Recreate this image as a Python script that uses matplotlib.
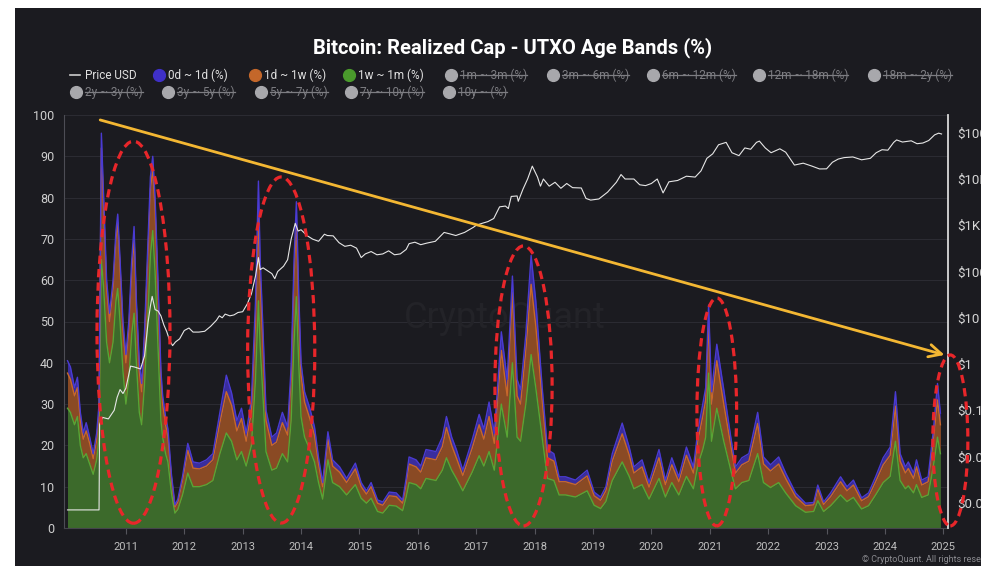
import matplotlib
matplotlib.use("Agg")
import matplotlib.pyplot as plt
from matplotlib.patches import Rectangle, Ellipse
from matplotlib.lines import Line2D
import numpy as np

plt.rcParams['font.family'] = ['Roboto', 'DejaVu Sans']

# ---------------- data ----------------
years = [2010.00, 2010.05, 2010.12, 2010.17, 2010.22, 2010.27, 2010.32, 2010.38, 2010.44, 2010.50,
         2010.54, 2010.58, 2010.62, 2010.67, 2010.72, 2010.78, 2010.83, 2010.86, 2010.90, 2010.95,
         2011.00, 2011.05, 2011.10, 2011.14, 2011.18, 2011.23, 2011.27, 2011.32, 2011.38, 2011.42,
         2011.46, 2011.50, 2011.55, 2011.60, 2011.63, 2011.68, 2011.72, 2011.78, 2011.84, 2011.89,
         2011.97, 2012.06, 2012.15, 2012.26, 2012.38, 2012.49, 2012.61, 2012.72, 2012.81, 2012.90,
         2012.98, 2013.06, 2013.15, 2013.22, 2013.27, 2013.30, 2013.34, 2013.40, 2013.50, 2013.58,
         2013.68, 2013.77, 2013.83, 2013.88, 2013.92, 2013.96, 2014.00, 2014.06, 2014.15, 2014.23,
         2014.30, 2014.37, 2014.46, 2014.54, 2014.66, 2014.78, 2014.93, 2015.03, 2015.12, 2015.20,
         2015.31, 2015.40, 2015.51, 2015.63, 2015.74, 2015.80, 2015.85, 2015.97, 2016.05, 2016.14,
         2016.31, 2016.42, 2016.49, 2016.58, 2016.66, 2016.77, 2016.93, 2017.05, 2017.13, 2017.22,
         2017.31, 2017.37, 2017.43, 2017.53, 2017.62, 2017.70, 2017.76, 2017.85, 2017.94, 2018.02,
         2018.13, 2018.22, 2018.33, 2018.42, 2018.53, 2018.70, 2018.90, 2019.02, 2019.13, 2019.22,
         2019.33, 2019.50, 2019.62, 2019.70, 2019.84, 2019.96, 2020.13, 2020.24, 2020.35, 2020.47,
         2020.60, 2020.72, 2020.80, 2020.88, 2020.93, 2020.98, 2021.03, 2021.12, 2021.24, 2021.36,
         2021.44, 2021.55, 2021.67, 2021.82, 2021.92, 2022.04, 2022.18, 2022.30, 2022.47, 2022.64,
         2022.78, 2022.85, 2022.95, 2023.07, 2023.24, 2023.35, 2023.46, 2023.60, 2023.72, 2023.84,
         2023.97, 2024.09, 2024.18, 2024.26, 2024.35, 2024.40, 2024.49, 2024.54, 2024.63, 2024.74,
         2024.83, 2024.90, 2024.95]

band_1w_1m = [29, 28, 25, 27, 20, 17, 18, 15.5, 13, 16.5,
              22, 65, 58, 45, 40, 45, 55, 58, 50, 38,
              30, 36, 47, 52, 40, 28, 25, 35, 52, 66,
              72, 62, 44, 26, 22, 18, 16, 8.5, 3.6, 4.5,
              8, 13.3, 10, 10, 10.5, 11.5, 18, 23, 21, 16.5,
              18.5, 15, 20, 36, 55, 44, 34, 18.5, 14, 14.5,
              18, 16, 26, 45, 56, 40, 27, 22, 19, 16,
              11, 7, 16.5, 11, 10, 8, 10.5, 7.2, 6, 7.2,
              4, 3.6, 5.5, 5.3, 4.2, 7.5, 11, 10.5, 9.5, 12,
              11.5, 14, 17, 14, 12, 9, 13.5, 17.5, 15, 18.5,
              14, 22, 30, 22, 40, 22, 21, 30, 42, 34,
              22, 12, 11.5, 8, 8, 7.5, 9, 5.5, 4.7, 6.4,
              11.5, 16, 12.5, 9.5, 10.5, 7, 12, 7.5, 11, 8,
              12.5, 9.5, 15.5, 19, 22, 37.5, 21, 29, 21, 14,
              9.5, 11, 11.5, 18, 11, 9.8, 11, 8.5, 5.4, 3.8,
              4, 6.6, 4, 5.4, 8, 6.4, 7.4, 4.6, 5.4, 8,
              11, 12.5, 21, 11.5, 9.5, 10.2, 8.5, 10.5, 7.4, 8,
              15, 22, 18]

band_1d_1w = [8.5, 8, 7, 7, 6, 4.5, 5.5, 5, 3.8, 4.8,
              6, 27, 19, 13, 10, 13, 15, 16, 13, 10,
              10, 12, 15, 18, 13, 10, 8, 11, 15, 16,
              15, 15, 13, 10, 8, 7, 6, 3.5, 1.5, 1.8,
              3.5, 5.5, 4.5, 4.3, 4.5, 5, 7.5, 10, 8.7, 7,
              8, 6, 8, 14, 20, 16, 13, 7.5, 6, 6.3,
              7.5, 6.5, 10, 16, 18, 13, 10, 8.5, 7.5, 6.5,
              4.5, 3, 5, 4, 3.5, 3, 3.8, 2.8, 2.2, 2.8,
              2, 1.9, 2.3, 2.3, 1.8, 3.3, 4.5, 4.3, 4, 5,
              5, 5.7, 7.3, 6, 5, 3.7, 5.8, 7.5, 6.5, 8.5,
              6.5, 9.5, 13, 10, 17, 10, 9, 13, 17, 15,
              9, 5, 4.7, 3.2, 3.2, 3, 3.6, 2.3, 2, 2.6,
              4.7, 6.8, 5.2, 3.8, 4.3, 2.9, 5, 3, 4.3, 3.2,
              5.1, 3.8, 6, 8, 9, 12, 9, 11.5, 9, 6,
              3.8, 4.3, 4.7, 7.3, 4.5, 4, 4.5, 3.5, 2.2, 1.6,
              1.6, 2.8, 1.7, 2.2, 3.2, 2.6, 3, 2, 2.2, 3.2,
              4.3, 5.1, 8.5, 4.7, 3.8, 4.2, 3.5, 4.3, 3, 3.2,
              6.2, 9, 7]

band_0d_1d = [3, 3, 2, 2.5, 2, 1.5, 2, 1.5, 1.2, 1.7,
              2, 3.6, 3, 2, 2, 2, 2, 2, 2, 2,
              2, 2, 3, 3, 2, 2, 2, 2, 3, 3,
              3, 3, 3, 2, 2, 2, 2, 1, 0.5, 0.7,
              1, 1.7, 1.5, 1.4, 1.5, 1.5, 2.5, 4, 3, 2.5,
              2.5, 2, 3, 5, 9, 5, 4, 2.5, 2, 2.2,
              2.5, 2, 3, 4, 5, 4, 3, 2.5, 2.5, 2,
              1.5, 1, 1.8, 1.5, 1.3, 1, 1.4, 1, 0.8, 1,
              0.8, 0.8, 0.9, 0.9, 0.8, 1.2, 1.7, 1.7, 1.5, 2,
              2, 2.3, 2.7, 2, 2, 1.3, 2, 2.5, 2.5, 3.5,
              2.5, 3.5, 4.5, 4, 4, 4, 3.5, 4, 7, 6,
              3, 2, 1.8, 1.2, 1.2, 1.1, 1.4, 0.9, 0.8, 1,
              1.8, 2.6, 1.9, 1.5, 1.7, 1.1, 2, 1.1, 1.7, 1.2,
              2, 1.5, 2.5, 3, 3, 4.5, 3, 4, 3.5, 2,
              1.5, 1.7, 1.8, 2.7, 1.7, 1.5, 1.7, 1.3, 0.9, 0.6,
              0.6, 1, 0.6, 0.9, 1.2, 1, 1.2, 0.7, 0.9, 1.2,
              1.7, 2, 3.5, 1.8, 1.5, 1.6, 1.3, 1.7, 1.2, 1.2,
              2.5, 4, 2.8]

price_years = [2010.00, 2010.54, 2010.55, 2010.60, 2010.70, 2010.80, 2010.85, 2010.90, 2010.95, 2011.00,
               2011.08, 2011.15, 2011.25, 2011.32, 2011.38, 2011.42, 2011.45, 2011.50, 2011.55, 2011.60,
               2011.65, 2011.70, 2011.75, 2011.80, 2011.85, 2011.92, 2012.00, 2012.08, 2012.15, 2012.25,
               2012.35, 2012.45, 2012.55, 2012.60, 2012.65, 2012.70, 2012.78, 2012.85, 2012.92, 2013.00,
               2013.08, 2013.15, 2013.22, 2013.27, 2013.30, 2013.35, 2013.42, 2013.50, 2013.55, 2013.60,
               2013.70, 2013.77, 2013.83, 2013.90, 2013.95, 2014.00, 2014.10, 2014.20, 2014.30, 2014.40,
               2014.45, 2014.55, 2014.65, 2014.75, 2014.85, 2014.95, 2015.03, 2015.10, 2015.20, 2015.30,
               2015.40, 2015.50, 2015.60, 2015.70, 2015.80, 2015.85, 2015.95, 2016.05, 2016.15, 2016.30,
               2016.45, 2016.55, 2016.65, 2016.80, 2016.95, 2017.00, 2017.10, 2017.20, 2017.30, 2017.40,
               2017.50, 2017.55, 2017.60, 2017.70, 2017.72, 2017.80, 2017.88, 2017.96, 2018.05, 2018.10,
               2018.15, 2018.25, 2018.35, 2018.45, 2018.55, 2018.65, 2018.80, 2018.88, 2018.96, 2019.10,
               2019.25, 2019.40, 2019.48, 2019.55, 2019.70, 2019.80, 2019.90, 2020.00, 2020.10, 2020.20,
               2020.30, 2020.45, 2020.60, 2020.75, 2020.85, 2020.95, 2021.05, 2021.15, 2021.28, 2021.38,
               2021.50, 2021.60, 2021.70, 2021.80, 2021.85, 2021.95, 2022.05, 2022.20, 2022.30, 2022.45,
               2022.60, 2022.75, 2022.88, 2023.00, 2023.10, 2023.20, 2023.30, 2023.45, 2023.60, 2023.75,
               2023.85, 2023.95, 2024.05, 2024.15, 2024.20, 2024.30, 2024.45, 2024.55, 2024.65, 2024.75,
               2024.85, 2024.92, 2024.97]

price_usd = [0.0007, 0.0007, 0.05, 0.07, 0.065, 0.1, 0.19, 0.28, 0.23, 0.30,
             0.9, 0.86, 0.78, 1.5, 8, 18, 29, 15, 14, 11,
             7, 5, 3.2, 2.5, 3.0, 3.5, 5.3, 6, 4.9, 4.9,
             5.1, 6.5, 8.8, 11, 10, 12, 11, 11.5, 13, 13.5,
             20, 33, 80, 200, 110, 120, 105, 90, 70, 100,
             130, 180, 500, 1100, 750, 800, 600, 500, 450, 640,
             600, 590, 420, 350, 370, 320, 200, 240, 270, 230,
             240, 280, 230, 240, 300, 400, 430, 380, 410, 450,
             700, 650, 600, 700, 900, 1000, 1100, 1200, 1400, 2500,
             2600, 2300, 4200, 4300, 3300, 6000, 10000, 19000, 11000, 7000,
             10000, 7000, 8500, 6300, 8000, 6500, 6400, 3800, 3500, 3700,
             5200, 8500, 12500, 10000, 10000, 7500, 7200, 8000, 10000, 5000,
             8700, 9300, 11500, 11000, 15000, 28000, 35000, 55000, 62000, 37000,
             32000, 47000, 44000, 62000, 66000, 47000, 37000, 45000, 38000, 20000,
             22000, 19000, 16500, 16600, 23000, 27000, 29000, 30000, 26000, 28000,
             37000, 43000, 42000, 62000, 70000, 63000, 67000, 58000, 60000, 68000,
             90000, 98000, 94000]

year_ticks = list(range(2011, 2026))
left_ticks = list(range(0, 101, 10))
price_ticks = [1e-3, 1e-2, 1e-1, 1, 10, 100, 1e3, 1e4, 1e5]
price_tick_labels = ["$0.001", "$0.01", "$0.1", "$1", "$10", "$100", "$1K", "$10K", "$100K"]

legend_active = [("0d ~ 1d (%)", "#3f30c8"), ("1d ~ 1w (%)", "#c4672a"), ("1w ~ 1m (%)", "#4a9a2c")]
legend_hidden_row1 = ["1m ~ 3m (%)", "3m ~ 6m (%)", "6m ~ 12m (%)", "12m ~ 18m (%)", "18m ~ 2y (%)"]
legend_hidden_row2 = ["2y ~ 3y (%)", "3y ~ 5y (%)", "5y ~ 7y (%)", "7y ~ 10y (%)", "10y ~ (%)"]

# ---------------- styling ----------------
BG = "#1b1b20"
W, H = 981, 566

fig = plt.figure(figsize=(W / 100, H / 100), dpi=100, facecolor="white")
fig.patches.append(Rectangle((15 / W, 0), 1 - 15 / W, 1 - 8 / H, transform=fig.transFigure,
                             facecolor=BG, edgecolor="none", zorder=-10))

def fx(px):
    return px / W

def fy(py):
    return 1 - py / H

ax = fig.add_axes([fx(64), fy(528), (948 - 64) / W, (528 - 115) / H])
ax.set_facecolor(BG)
ax.set_xlim(2009.94, 2025.08)
ax.set_ylim(0, 100)

x = np.array(years)
g = np.array(band_1w_1m)
o = np.array(band_1d_1w)
b = np.array(band_0d_1d)
c1 = g
c2 = g + o
c3 = g + o + b

ax.fill_between(x, 0, c1, color="#3c6a2b", lw=0, zorder=2)
ax.fill_between(x, c1, c2, color="#8a4a24", lw=0, zorder=2)
ax.fill_between(x, c2, c3, color="#3a2d9e", lw=0, zorder=2)
ax.plot(x, c1, color="#58a535", lw=1.0, zorder=3)
ax.plot(x, c2, color="#c8682b", lw=1.0, zorder=3)
ax.plot(x, c3, color="#4a3bd2", lw=1.0, zorder=3)

# watermark
ax.text(0.499, 0.508, "CryptoQuant", transform=ax.transAxes, fontsize=26, color="#232328",
        ha="center", va="center", zorder=1)

ax.set_yticks(left_ticks)
ax.set_yticklabels([str(v) for v in left_ticks])
ax.tick_params(axis="y", length=0, pad=7, labelsize=9, labelcolor="#cfcfcf")
ax.set_xticks(year_ticks)
ax.set_xticklabels([str(v) for v in year_ticks])
ax.tick_params(axis="x", length=4, width=0.8, color="#55555c", pad=6, labelsize=8,
               labelcolor="#bdbdbd")
ax.grid(axis="y", color="#2b2b32", lw=0.8, zorder=0)
ax.set_axisbelow(True)
for s in ["top", "right"]:
    ax.spines[s].set_visible(False)
ax.spines["left"].set_color("#4d4d55")
ax.spines["bottom"].set_color("#45454c")

ax2 = ax.twinx()
ax2.set_yscale("log")
ax2.set_ylim(10 ** -3.546, 10 ** 5.384)
ax2.plot(price_years, price_usd, color="#e6e6e6", lw=0.8, zorder=4)
ax2.set_yticks(price_ticks)
ax2.set_yticklabels(price_tick_labels)
ax2.yaxis.set_minor_locator(matplotlib.ticker.NullLocator())
ax2.tick_params(axis="y", length=0, pad=7, labelsize=9.5, labelcolor="#d5d5d5")
for s in ["top", "left", "bottom"]:
    ax2.spines[s].set_visible(False)
ax2.spines["right"].set_color("#d8d8d8")
ax2.spines["right"].set_linewidth(1.3)

# annotations (drawn in data coords of the % axis)
ellipses = [(2011.13, 47.4, 1.25, 92.5), (2013.66, 43.1, 1.15, 83.8), (2017.81, 34.4, 0.98, 67.8),
            (2021.12, 28.1, 0.68, 55.2), (2025.12, 21.2, 0.60, 41.4)]
for cx, cy, w, h in ellipses:
    e = Ellipse((cx, cy), w, h, transform=ax.transData, fill=False, edgecolor="#e8262a",
                lw=2.3, linestyle=(0, (2.6, 1.6)), clip_on=False, zorder=10)
    ax2.add_patch(e)

ax2.annotate("", xy=(2025.02, 41.9), xytext=(2010.56, 98.8), xycoords=ax.transData,
             textcoords=ax.transData,
             arrowprops=dict(arrowstyle="->,head_length=0.9,head_width=0.45", color="#f3b733",
                             lw=2.0, shrinkA=0, shrinkB=0), zorder=11, annotation_clip=False)

# title
fig.text(fx(513), fy(48), "Bitcoin: Realized Cap - UTXO Age Bands (%)", ha="center", va="center",
         fontsize=14.5, fontweight="bold", color="white")

# legend
row1 = fy(75)
row2 = fy(92)
fig.add_artist(Line2D([fx(70), fx(80)], [row1, row1], color="#cccccc", lw=1.2,
                      transform=fig.transFigure))
fig.text(fx(85), row1, "Price USD", ha="left", va="center", fontsize=8.5, color="#e0e0e0")

def circle(px, y, color):
    fig.add_artist(Line2D([fx(px)], [y], marker="o", markersize=8.5, color=color, lw=0,
                          transform=fig.transFigure))

for (name, col), px in zip(legend_active, [159, 255, 349]):
    circle(px, row1, col)
    fig.text(fx(px + 9), row1, name, ha="left", va="center", fontsize=8.5, color="#e0e0e0")

hidden_texts = []
for name, px in zip(legend_hidden_row1, [451, 553, 653, 759, 874]):
    circle(px, row1, "#a8a8ac")
    hidden_texts.append(fig.text(fx(px + 9), row1, name, ha="left", va="center", fontsize=8.5,
                                 color="#7d7d82"))
for name, px in zip(legend_hidden_row2, [76, 168, 261, 351, 449]):
    circle(px, row2, "#a8a8ac")
    hidden_texts.append(fig.text(fx(px + 9), row2, name, ha="left", va="center", fontsize=8.5,
                                 color="#7d7d82"))

renderer = fig.canvas.get_renderer()
for t in hidden_texts:
    bb = t.get_window_extent(renderer)
    ymid = (bb.y0 + bb.y1) / 2 + 0.5
    fig.add_artist(Line2D([bb.x0 / W, bb.x1 / W], [ymid / H, ymid / H], color="#7d7d82", lw=0.9,
                          transform=fig.transFigure))

fig.text(fx(862), fy(560), "\u00a9 CryptoQuant. All rights reserved.", ha="left", va="center",
         fontsize=6.5, color="#8a8a8f")

fig.savefig("out.png", dpi=100, facecolor="white")
